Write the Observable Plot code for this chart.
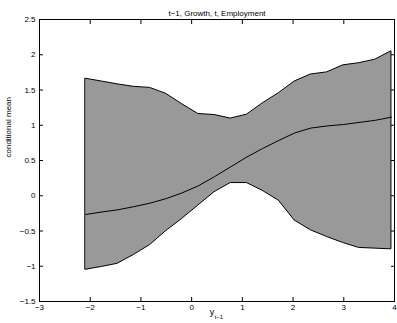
<!DOCTYPE html>
<html><head><meta charset="utf-8">
<script src="https://cdn.jsdelivr.net/npm/d3@7"></script>
<script src="https://cdn.jsdelivr.net/npm/@observablehq/plot@0.6"></script>
<style>body{margin:0;background:#fff}</style>
</head><body><div id="chart"></div>
<script>
const xGrid = [-2.09, -1.77, -1.46, -1.14, -0.82, -0.50, -0.19, 0.13, 0.45, 0.77, 1.09, 1.40, 1.72, 2.03, 2.35, 2.67, 2.99, 3.30, 3.62, 3.94];
const upper = [1.66, 1.62, 1.58, 1.545, 1.53, 1.445, 1.30, 1.16, 1.145, 1.095, 1.15, 1.31, 1.455, 1.62, 1.72, 1.75, 1.85, 1.88, 1.93, 2.05];
const mean  = [-0.266, -0.23, -0.20, -0.155, -0.105, -0.04, 0.04, 0.14, 0.27, 0.41, 0.55, 0.67, 0.785, 0.89, 0.96, 0.99, 1.01, 1.04, 1.07, 1.115];
const lower = [-1.05, -1.01, -0.965, -0.84, -0.70, -0.50, -0.33, -0.14, 0.05, 0.18, 0.18, 0.07, -0.07, -0.35, -0.49, -0.585, -0.67, -0.74, -0.75, -0.76];
const xTicks = [-3, -2, -1, 0, 1, 2, 3, 4];
const yTicks = [-1.5, -1, -0.5, 0, 0.5, 1, 1.5, 2, 2.5];
const title = "t\u22121, Growth, t, Employment";
const yLabel = "conditional mean";
const xLabelMain = "y";
const xLabelSub = "t\u22121";

const rows = xGrid.map((x, i) => ({x, lo: lower[i], hi: upper[i], m: mean[i]}));
const fmt = d => d < 0 ? "\u2212" + Math.abs(d) : String(d);
const blank = () => "";

const plot = Plot.plot({
  width: 397, height: 323,
  marginTop: 19, marginLeft: 39, marginRight: 3, marginBottom: 22,
  style: {fontFamily: "'Liberation Sans', Arial, sans-serif", fontSize: "8px", color: "black", background: "white"},
  x: {domain: [-3, 4]},
  y: {domain: [-1.5, 2.5]},
  marks: [
    Plot.areaY(rows, {x: "x", y1: "lo", y2: "hi", fill: "#999999", fillOpacity: 1, stroke: "black", strokeWidth: 1}),
    Plot.line(rows, {x: "x", y: "m", stroke: "black", strokeWidth: 1}),
    Plot.frame({stroke: "black"}),
    Plot.axisX(xTicks, {anchor: "bottom", tickSize: -4, tickPadding: 6.5, tickFormat: fmt, label: null}),
    Plot.axisX(xTicks, {anchor: "top", tickSize: -4, tickFormat: blank, label: null}),
    Plot.axisY(yTicks, {anchor: "left", tickSize: -4, tickPadding: 8, tickFormat: fmt, label: null}),
    Plot.axisY(yTicks, {anchor: "right", tickSize: -4, tickFormat: blank, label: null}),
    Plot.text([title], {frameAnchor: "top", dy: -9, text: d => d, fontSize: 8}),
    Plot.text([yLabel], {frameAnchor: "left", dx: -31, rotate: -90, dy: -3, text: d => d, fontSize: 8}),
    Plot.text([xLabelMain], {frameAnchor: "bottom", dx: -5, dy: 13, text: d => d, fontSize: 9}),
    Plot.text([xLabelSub], {frameAnchor: "bottom", dx: -2.5, dy: 17, text: d => d, fontSize: 6, textAnchor: "start"})
  ]
});
document.getElementById("chart").appendChild(plot);
</script>
</body></html>
